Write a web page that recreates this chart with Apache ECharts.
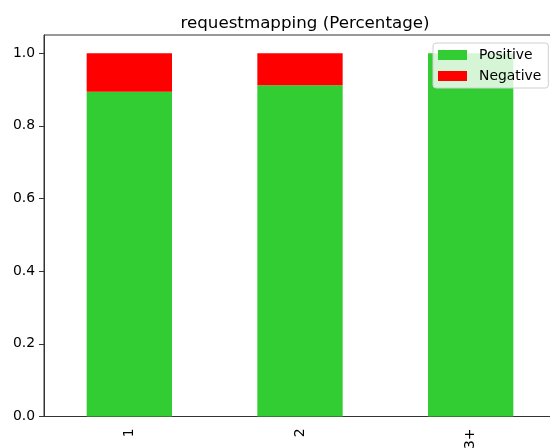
<!DOCTYPE html>
<html>
<head>
<meta charset="utf-8">
<script src="https://cdn.jsdelivr.net/npm/echarts@6/dist/echarts.min.js"></script>
<style>html,body{margin:0;padding:0;background:#fff;}#c{width:550px;height:448px;}</style>
</head>
<body>
<div id="c"></div>
<script>
var categories = ['1', '2', '3+'];
var positive = [0.894, 0.912, 1.0];
var negative = [0.106, 0.088, 0.0];
var yTicks = [0, 0.2, 0.4, 0.6, 0.8, 1.0];

var FONT = 'DejaVu Sans';
var chart = echarts.init(document.getElementById('c'), null, {renderer: 'canvas'});
chart.setOption({
  animation: false,
  backgroundColor: '#fff',
  title: {
    text: 'requestmapping (Percentage)',
    left: 300, top: 10, textAlign: 'center',
    textStyle: {fontFamily: FONT, fontSize: 16.7, fontWeight: 'normal', color: '#000'}
  },
  grid: {left: 44, top: 35, width: 512, height: 381.5, outerBoundsMode: 'none', containLabel: false,
         show: true, borderColor: '#333', borderWidth: 1, backgroundColor: 'transparent'},
  legend: {
    orient: 'vertical', left: 433, top: 43,
    data: ['Positive', 'Negative'],
    icon: 'rect', itemWidth: 29, itemHeight: 10, itemGap: 5,
    padding: [4, 7, 4, 5],
    backgroundColor: 'rgba(255,255,255,0.8)', borderColor: '#d0d0d0', borderWidth: 1, borderRadius: 3,
    selectedMode: false,
    textStyle: {fontFamily: FONT, fontSize: 13.9, color: '#000', lineHeight: 16, padding: [0, 0, 0, 7]}
  },
  xAxis: {
    type: 'category', data: categories,
    axisLine: {lineStyle: {color: '#333', width: 1}},
    axisTick: {alignWithLabel: true, length: 5, lineStyle: {color: '#333'}},
    axisLabel: {rotate: 90, margin: 12, fontFamily: FONT, fontSize: 13.9, color: '#000'}
  },
  yAxis: {
    type: 'value', min: 0, max: 1.05, interval: 0.2,
    splitLine: {show: false},
    axisLine: {show: true, lineStyle: {color: '#333', width: 1}},
    axisTick: {show: true, length: 5, lineStyle: {color: '#333'}},
    axisLabel: {
      margin: 9, fontFamily: FONT, fontSize: 13.9, color: '#000', showMaxLabel: false,
      formatter: function (v) {
        for (var i = 0; i < yTicks.length; i++) { if (Math.abs(v - yTicks[i]) < 1e-6) return yTicks[i].toFixed(1); }
        return '';
      }
    }
  },
  series: [
    {name: 'Positive', type: 'bar', stack: 'total', data: positive, barWidth: '50%', itemStyle: {color: '#32CD32'}},
    {name: 'Negative', type: 'bar', stack: 'total', data: negative, barWidth: '50%', itemStyle: {color: '#FF0000'}}
  ]
});
</script>
</body>
</html>
